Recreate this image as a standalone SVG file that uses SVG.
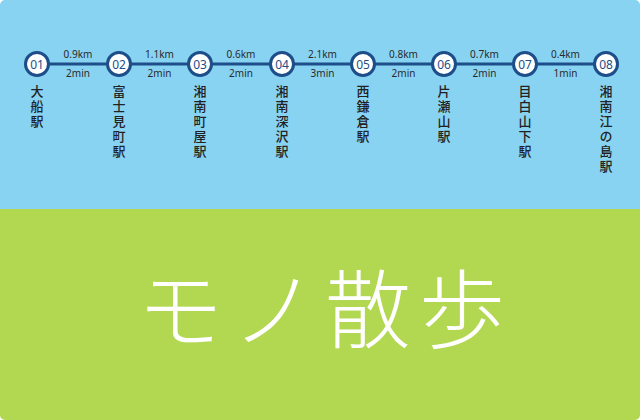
<svg xmlns="http://www.w3.org/2000/svg" width="640" height="420" viewBox="0 0 640 420">
<defs>
<clipPath id="card"><rect x="0" y="0" width="640" height="420" rx="5" ry="5"/></clipPath>
</defs>
<style>
.st circle{fill:#ffffff;stroke:#1d4e89;stroke-width:3}
.num{font-family:"Noto Sans","DejaVu Sans",sans-serif;font-size:12px;fill:#1d4e89;text-anchor:middle}
.nm{font-family:"Noto Sans CJK JP","Noto Sans",sans-serif;font-size:13px;font-weight:500;fill:#222222;writing-mode:vertical-rl;text-orientation:upright;letter-spacing:2px}
.lbl{font-family:"Noto Sans","DejaVu Sans",sans-serif;font-size:10px;fill:#2a2a2a;text-anchor:middle}
.title{font-family:"Noto Sans CJK JP",sans-serif;font-size:86px;font-weight:300;fill:#ffffff;text-anchor:middle;letter-spacing:8px}
</style>
<g clip-path="url(#card)">
<rect x="0" y="0" width="640" height="209" fill="#89d3f2"/>
<rect x="0" y="209" width="640" height="211" fill="#b2d751"/>
</g>
<g id="connectors">
<line x1="37" y1="64" x2="606" y2="64" stroke="#1d4e89" stroke-width="3"/>
<text class="lbl" x="78" y="58">0.9km</text><text class="lbl" x="78" y="77">2min</text>
<text class="lbl" x="159.5" y="58">1.1km</text><text class="lbl" x="159.5" y="77">2min</text>
<text class="lbl" x="241" y="58">0.6km</text><text class="lbl" x="241" y="77">2min</text>
<text class="lbl" x="322.5" y="58">2.1km</text><text class="lbl" x="322.5" y="77">3min</text>
<text class="lbl" x="403.5" y="58">0.8km</text><text class="lbl" x="403.5" y="77">2min</text>
<text class="lbl" x="484.5" y="58">0.7km</text><text class="lbl" x="484.5" y="77">2min</text>
<text class="lbl" x="565.5" y="58">0.4km</text><text class="lbl" x="565.5" y="77">1min</text>
</g>
<g id="s01" class="st"><circle cx="37" cy="64" r="11.5"/><text class="num" x="37" y="68.5">01</text>
<text class="nm" x="37" y="84.5">大船駅</text></g>
<g id="s02" class="st"><circle cx="119" cy="64" r="11.5"/><text class="num" x="119" y="68.5">02</text>
<text class="nm" x="119" y="84.5">富士見町駅</text></g>
<g id="s03" class="st"><circle cx="200" cy="64" r="11.5"/><text class="num" x="200" y="68.5">03</text>
<text class="nm" x="200" y="84.5">湘南町屋駅</text></g>
<g id="s04" class="st"><circle cx="282" cy="64" r="11.5"/><text class="num" x="282" y="68.5">04</text>
<text class="nm" x="282" y="84.5">湘南深沢駅</text></g>
<g id="s05" class="st"><circle cx="363" cy="64" r="11.5"/><text class="num" x="363" y="68.5">05</text>
<text class="nm" x="363" y="84.5">西鎌倉駅</text></g>
<g id="s06" class="st"><circle cx="444" cy="64" r="11.5"/><text class="num" x="444" y="68.5">06</text>
<text class="nm" x="444" y="84.5">片瀬山駅</text></g>
<g id="s07" class="st"><circle cx="525" cy="64" r="11.5"/><text class="num" x="525" y="68.5">07</text>
<text class="nm" x="525" y="84.5">目白山下駅</text></g>
<g id="s08" class="st"><circle cx="606" cy="64" r="11.5"/><text class="num" x="606" y="68.5">08</text>
<text class="nm" x="606" y="84.5">湘南江の島駅</text></g>
<text class="title" x="325" y="342">モノ散歩</text>
</svg>
